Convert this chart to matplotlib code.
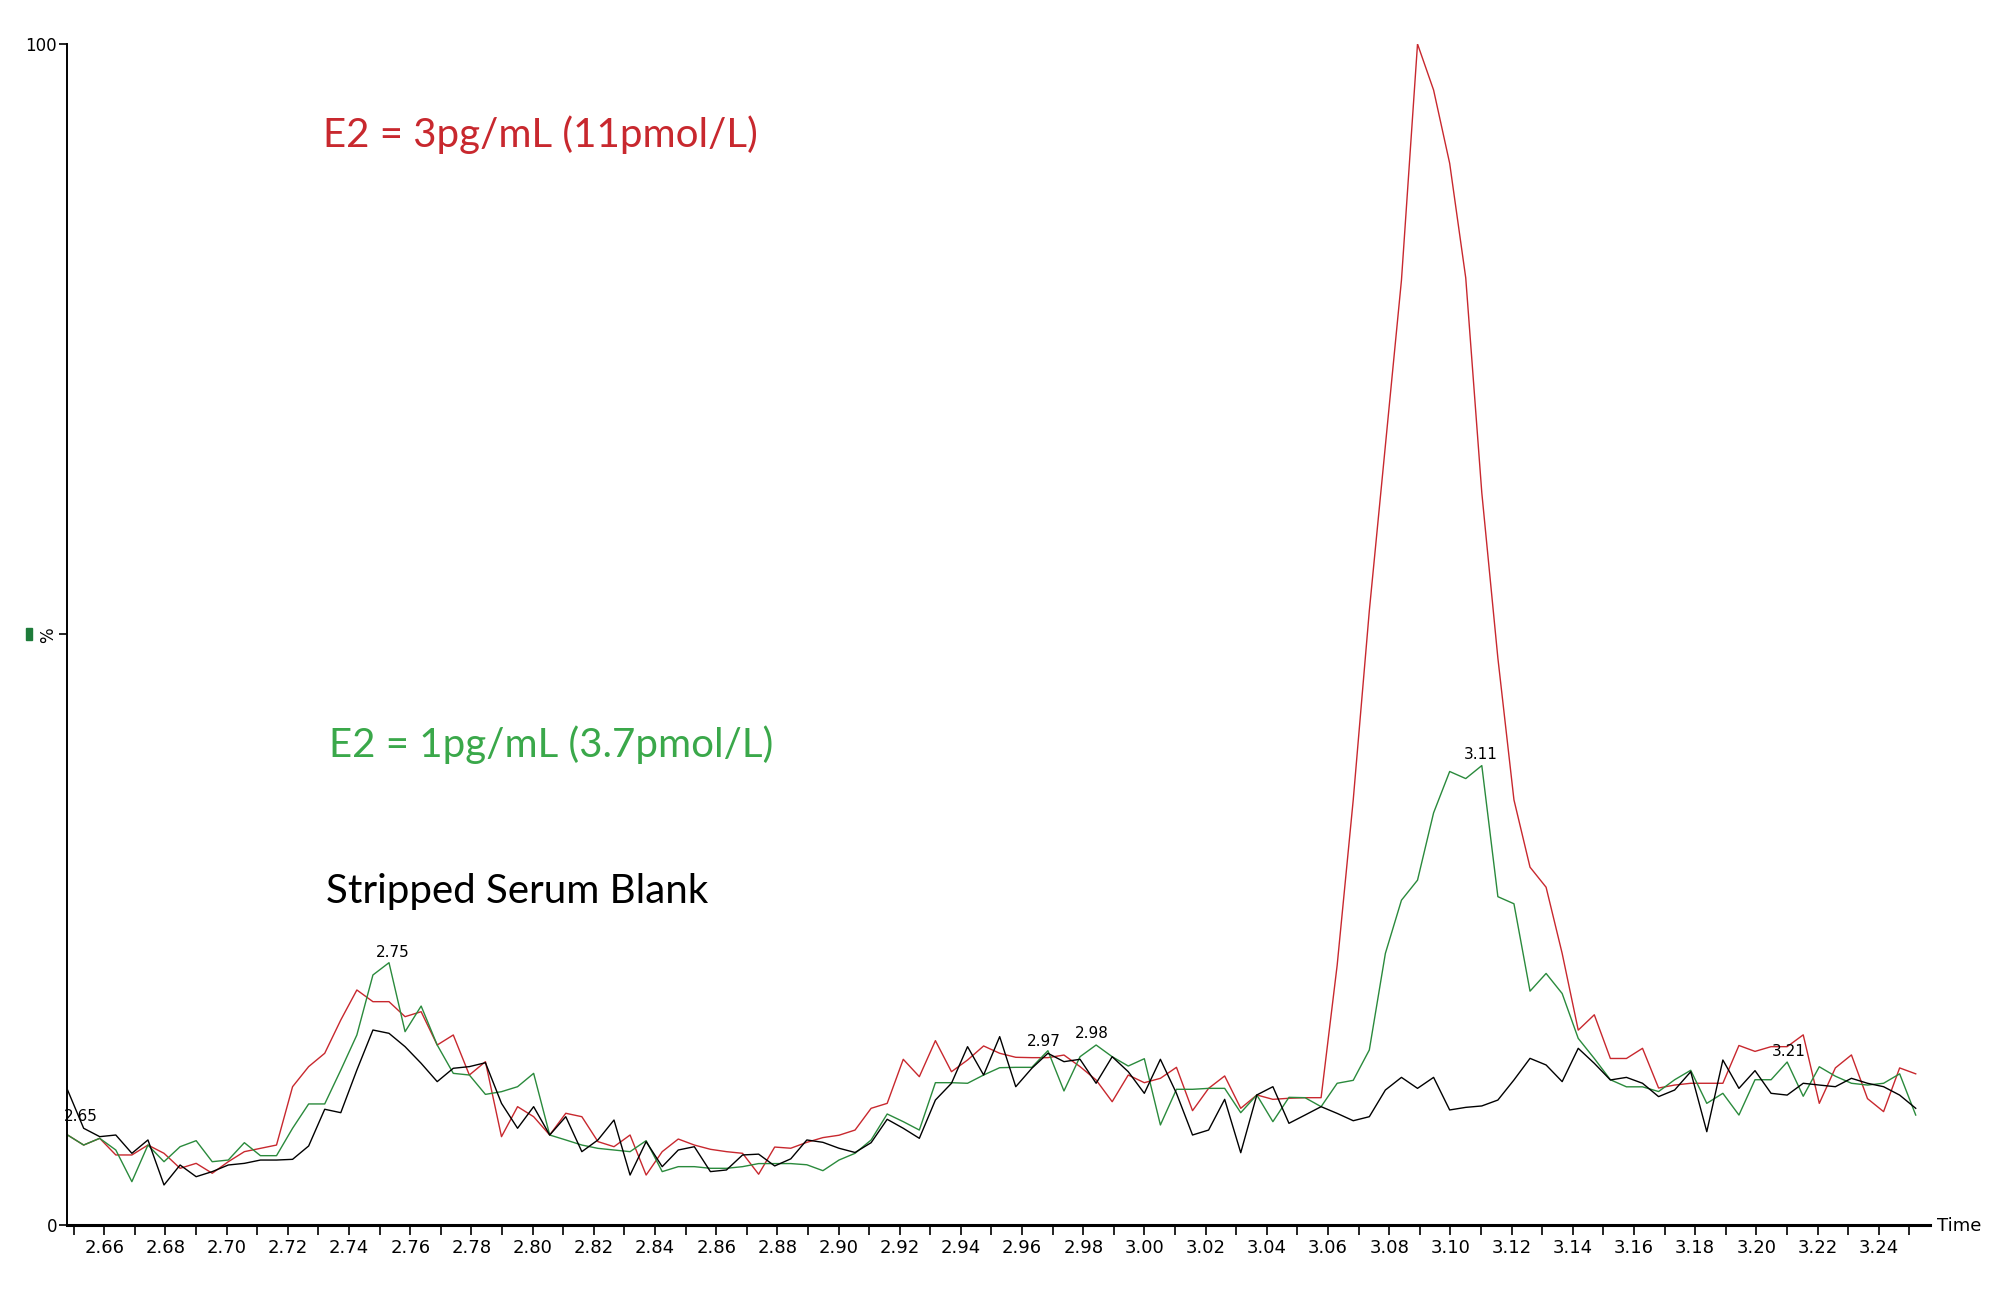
import numpy as np
import matplotlib
matplotlib.use("Agg")
import matplotlib.pyplot as plt
from matplotlib.patches import Rectangle

# scan times (min), one scan every ~0.00525 min
t_start = 2.6480
t_end = 3.2521
n_scans = 116

red_e2_3pg = [
    7.62, 6.77, 7.34, 5.93, 5.93, 6.77, 6.07, 4.80, 5.22, 4.38,
    5.36, 6.21, 6.49, 6.77, 11.71, 13.41, 14.54, 17.36, 19.90, 18.91,
    18.91, 17.64, 18.06, 15.24, 16.09, 12.70, 13.83, 7.48, 10.02, 9.17,
    7.62, 9.46, 9.17, 7.06, 6.63, 7.62, 4.23, 6.21, 7.28, 6.77,
    6.41, 6.21, 6.07, 4.30, 6.60, 6.50, 7.00, 7.40, 7.60, 8.04,
    9.88, 10.30, 14.03, 12.56, 15.61, 12.98, 13.97, 15.16, 14.54, 14.20,
    14.17, 14.17, 14.39, 13.41, 12.28, 10.44, 12.70, 12.05, 12.42, 13.35,
    9.68, 11.57, 12.62, 9.88, 11.01, 10.64, 10.73, 10.78, 10.78, 22.0,
    36.0, 52.0, 66.0, 80.0, 100.0, 96.1, 89.9, 80.2, 62.0, 48.0,
    36.0, 30.3, 28.6, 23.0, 16.5, 17.8, 14.1, 14.1, 14.96, 11.6,
    11.85, 12.0, 12.0, 12.0, 15.2, 14.7, 15.1, 15.1, 16.1, 10.3,
    13.3, 14.4, 10.7, 9.6, 13.3, 12.8,
]

green_e2_1pg = [
    7.62, 6.77, 7.34, 6.35, 3.67, 6.77, 5.36, 6.63, 7.14, 5.36,
    5.50, 6.97, 5.87, 5.87, 8.19, 10.25, 10.25, 13.12, 16.09, 21.17,
    22.21, 16.37, 18.54, 15.24, 12.84, 12.70, 11.06, 11.29, 11.71, 12.84,
    7.62, 7.20, 6.77, 6.49, 6.35, 6.21, 7.14, 4.52, 4.94, 4.94,
    4.80, 4.80, 4.94, 5.20, 5.20, 5.20, 5.10, 4.60, 5.50, 6.07,
    7.20, 9.40, 8.75, 8.04, 12.05, 12.05, 12.00, 12.70, 13.32, 13.35,
    13.35, 14.76, 11.35, 14.25, 15.24, 14.25, 13.46, 14.08, 8.47, 11.49,
    11.49, 11.57, 11.57, 9.51, 11.01, 8.75, 10.81, 10.78, 10.02, 12.00,
    12.25, 14.82, 23.0, 27.5, 29.2, 34.9, 38.4, 37.8, 38.9, 27.8,
    27.2, 19.8, 21.3, 19.6, 15.8, 14.1, 12.3, 11.7, 11.7, 11.3,
    12.3, 13.1, 10.3, 11.15, 9.31, 12.3, 12.3, 13.8, 10.9, 13.4,
    12.6, 12.0, 11.85, 12.0, 12.8, 9.31,
]

black_blank = [
    11.43, 8.19, 7.48, 7.62, 6.07, 7.20, 3.39, 5.08, 4.09, 4.52,
    5.08, 5.22, 5.50, 5.50, 5.56, 6.69, 9.80, 9.51, 13.12, 16.51,
    16.23, 15.10, 13.69, 12.14, 13.27, 13.41, 13.74, 10.30, 8.19, 10.02,
    7.62, 9.17, 6.21, 7.20, 8.89, 4.23, 7.06, 4.94, 6.35, 6.63,
    4.52, 4.66, 5.93, 6.00, 5.00, 5.60, 7.20, 7.00, 6.50, 6.14,
    6.97, 8.95, 8.19, 7.34, 10.58, 12.00, 15.10, 12.70, 15.95, 11.71,
    13.27, 14.54, 13.83, 14.03, 12.00, 14.25, 12.98, 11.15, 14.03, 11.15,
    7.62, 8.04, 10.64, 6.12, 11.01, 11.71, 8.61, 9.31, 10.02, 9.45,
    8.83, 9.17, 11.43, 12.50, 11.57, 12.50, 9.74, 9.96, 10.08, 10.58,
    12.28, 14.11, 13.55, 12.14, 14.96, 13.69, 12.28, 12.50, 12.00, 10.87,
    11.43, 12.98, 7.90, 13.97, 11.57, 13.07, 11.15, 11.00, 12.00, 11.85,
    11.71, 12.42, 12.00, 11.71, 11.00, 9.88,
]

# peak apex labels (text, time, height of label)
peak_labels = ["2.65", "2.75", "2.97", "2.98", "3.11", "3.21"]
peak_x = [2.6524, 2.7542, 2.9670, 2.9827, 3.1100, 3.2107]
peak_y = [9.2, 23.1, 15.5, 16.2, 39.8, 14.7]

major_ticks = np.round(np.arange(2.66, 3.241, 0.02), 2)
minor_ticks = np.round(np.arange(2.65, 3.251, 0.02), 2)

times = np.linspace(t_start, t_end, n_scans)

narrow = ["Liberation Sans Narrow", "DejaVu Sans"]
label_font = ["Lato", "DejaVu Sans"]

fig = plt.figure(figsize=(20, 13.16), dpi=100)
ax = fig.add_axes([0.03335, 0.06915, 0.93165, 0.89742])

ax.plot(times, black_blank, color="black", lw=1.0, zorder=3)
ax.plot(times, green_e2_1pg, color="#2a8a3c", lw=1.0, zorder=2)
ax.plot(times, red_e2_3pg, color="#c8282e", lw=1.0, zorder=1)

for lab, x, y in zip(peak_labels, peak_x, peak_y):
    ax.text(x, y, lab, ha="center", va="center", fontsize=11, family=narrow)

ax.set_xlim(2.64771, 3.25677)
ax.set_ylim(0, 100)

for s in ["top", "right"]:
    ax.spines[s].set_visible(False)
ax.spines["bottom"].set_linewidth(2.2)
ax.spines["left"].set_linewidth(1.4)

ax.set_xticks(major_ticks)
ax.set_xticklabels([f"{v:.2f}" for v in major_ticks], family=narrow, fontsize=13)
ax.set_xticks(minor_ticks, minor=True)
ax.tick_params(axis="x", which="both", direction="out", length=7, width=1.2, pad=3)

ax.set_yticks([0, 50, 100])
ax.set_yticklabels(["0", "%", "100"], family=narrow, fontsize=12)
ax.get_yticklabels()[1].set_rotation(90)
ax.tick_params(axis="y", which="major", direction="out", length=6, width=1.2, pad=1)

fig.text(1937 / 2000, 1 - 1226 / 1316, "Time", ha="left", va="center",
         fontsize=13, family=narrow)

ax.text(2.7315, 92.3, "E2 = 3pg/mL (11pmol/L)", color="#c8282e",
        fontsize=29, family=label_font, va="center", ha="left")
ax.text(2.7335, 40.7, "E2 = 1pg/mL (3.7pmol/L)", color="#3aa84a",
        fontsize=29, family=label_font, va="center", ha="left")
ax.text(2.7326, 28.2, "Stripped Serum Blank", color="black",
        fontsize=29, family=label_font, va="center", ha="left")

fig.add_artist(Rectangle((26 / 2000, 1 - 640 / 1316), 6 / 2000, 12 / 1316,
                         transform=fig.transFigure, color="#1e7b3a"))

fig.savefig("out.png", dpi=100)
